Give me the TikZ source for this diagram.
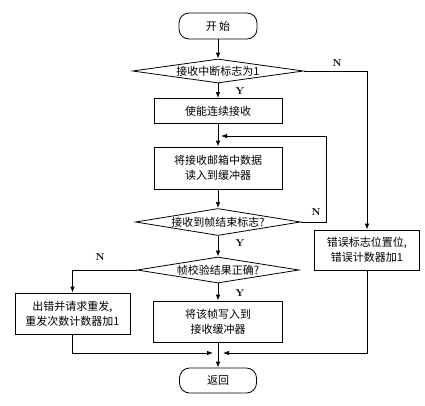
\documentclass[tikz,border=0pt]{standalone}
\usepackage{fontspec}
\newfontfamily\cjk{Noto Sans CJK SC}
\usetikzlibrary{shapes.geometric,arrows.meta,calc}
\begin{document}
\begin{tikzpicture}[x=1pt,y=-1pt,
  every node/.style={font=\cjk\fontsize{11}{15}\selectfont},
  ln/.style={line width=0.8pt},
  arr/.style={ln,-{Latex[length=6pt,width=4.5pt]}},
  proc/.style={draw,ln,rectangle,inner sep=0pt,align=center},
  term/.style={draw,ln,rectangle,rounded corners=10pt,inner sep=0pt},
  dec/.style={draw,ln,diamond,aspect=7,inner sep=0pt},
  yn/.style={font=\bfseries\fontsize{10}{12}\selectfont}]
\useasboundingbox (0,0) rectangle (425,405);
% nodes
\node[term,minimum width=78pt,minimum height=26pt] (start) at (218,26) {开\ 始};
\node[dec,minimum width=171pt,minimum height=24pt] (d1) at (218,71) {接收中断标志为1};
\node[proc,minimum width=128pt,minimum height=25pt] (b1) at (218,111) {使能连续接收};
\node[proc,minimum width=128pt,minimum height=42pt] (b2) at (218,168) {将接收邮箱中数据\\读入到缓冲器};
\node[dec,minimum width=165pt,minimum height=27pt] (d3) at (218,222) {接收到帧结束标志?};
\node[dec,minimum width=162pt,minimum height=26pt] (d4) at (218,270) {帧校验结果正确?};
\node[proc,minimum width=115pt,minimum height=41pt] (lb) at (72.5,313.5) {出错并请求重发,\\重发次数计数器加1};
\node[proc,minimum width=129pt,minimum height=41pt] (mb) at (218,321.5) {将该帧写入到\\接收缓冲器};
\node[proc,minimum width=105pt,minimum height=40pt] (rb) at (367,250) {错误标志位置位,\\错误计数器加1};
\node[term,minimum width=77pt,minimum height=25pt] (end) at (218,380.5) {返回};
\coordinate (loop) at (218,136);
\coordinate (merge) at (218,353);
% labels
\node[yn] (n1) at (337,63) {N};
\node[yn] (y1) at (240,91) {Y};
\node[yn] (n3) at (316,212) {N};
\node[yn] (y3) at (240,243) {Y};
\node[yn] (n4) at (100,257) {N};
\node[yn] (y4) at (240,293) {Y};
% connectors
\draw[arr] (start) -- (d1);
\draw[arr] (d1) -- (b1);
\draw[arr] (d1.east) -| (rb.north);
\draw[arr] (b1) -- (b2);
\draw[arr] (b2) -- (d3);
\draw[arr,shorten >=3pt] (d3.east) -- ++(25,0) |- (loop);
\draw[arr] (d3) -- (d4);
\draw[arr] (d4.west) -| (lb.north);
\draw[arr] (d4) -- (mb);
\draw[arr] (mb) -- (end);
\draw[arr,shorten >=5pt] (lb.south) |- (merge);
\draw[arr,shorten >=5pt] (rb.south) |- (merge);
\end{tikzpicture}
\end{document}
